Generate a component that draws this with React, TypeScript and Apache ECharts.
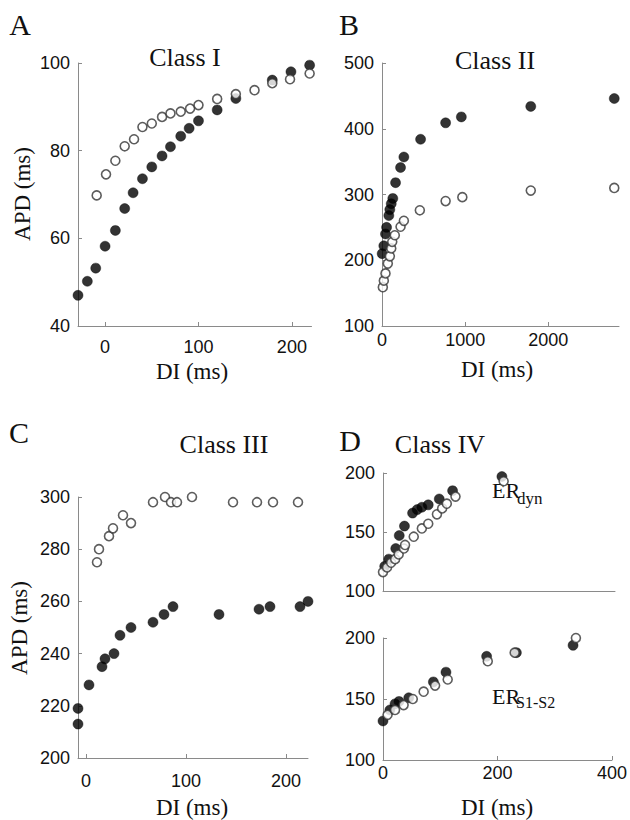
import React, { useEffect, useRef } from "react";
import * as echarts from "echarts";

// Panel A – Class I
const aFilled: number[][] = [
  [-29, 47.0], [-19, 50.2], [-10, 53.2], [0, 58.2], [11, 61.8], [21, 66.8], [30, 70.4],
  [40, 73.6], [50, 76.3], [61, 78.8], [70, 80.9], [81, 83.3], [90, 85.1], [100, 86.8],
  [120, 89.3], [140, 91.9], [179, 96.1], [199, 98.0], [219, 99.5],
];
const aOpen: number[][] = [
  [-9, 69.8], [1, 74.6], [11, 77.7], [21, 81.0], [31, 82.6], [40, 85.4], [50, 86.2],
  [61, 87.7], [70, 88.5], [81, 88.9], [91, 89.6], [100, 90.4], [120, 91.8], [140, 92.9],
  [160, 93.8], [179, 95.4], [198, 96.3], [219, 97.6],
];
// Panel B – Class II
const bFilled: number[][] = [
  [2, 210], [22, 222], [42, 240], [55, 250], [82, 268], [94, 277], [111, 286], [130, 294],
  [163, 318], [223, 341], [263, 357], [464, 384], [765, 409], [954, 418], [1789, 434], [2793, 446],
];
const bOpen: number[][] = [
  [10, 159], [22, 169], [42, 180], [70, 195], [94, 206], [111, 218], [123, 228], [154, 238],
  [223, 251], [263, 260], [455, 276], [765, 290], [966, 296], [1789, 306], [2793, 310],
];
// Panel C – Class III
const cFilled: number[][] = [
  [-8, 219], [-8, 213], [3, 228], [16, 235], [19, 238], [28, 240], [34, 247], [45, 250],
  [67, 252], [78, 255], [87, 258], [133, 255], [173, 257], [184, 258], [214, 258], [222, 260],
];
const cOpen: number[][] = [
  [11, 275], [13, 280], [23, 285], [27, 288], [37, 293], [45, 290], [67, 298], [79, 300],
  [85, 298], [91, 298], [106, 300], [147, 298], [171, 298], [187, 298], [212, 298],
];
// Panel D – Class IV, ER_dyn
const dDynFilled: number[][] = [
  [3, 121], [10, 127], [22, 136], [28, 147], [37, 155], [51, 166], [59, 169], [67, 171],
  [78, 173], [97, 178], [120, 185], [205, 197],
];
const dDynOpen: number[][] = [
  [0, 116], [7, 120], [14, 124], [21, 127], [27, 131], [36, 136], [38, 139], [53, 146],
  [67, 153], [78, 157], [93, 165], [102, 170], [110, 174], [125, 180], [208, 193],
];
// Panel D – Class IV, ER_S1-S2
const dS12Filled: number[][] = [
  [0, 132], [12, 141], [21, 146], [28, 148], [45, 151], [88, 164], [110, 172], [181, 185],
  [233, 188], [332, 194],
];
const dS12Open: number[][] = [
  [8, 137], [21, 141], [36, 145], [52, 150], [71, 156], [91, 161], [113, 166], [183, 181],
  [230, 188], [337, 200],
];

const xTicksA = [0, 100, 200];
const xTicksB = [0, 1000, 2000];
const xTicksC = [0, 100, 200];

const SERIF = '"Liberation Serif", "Times New Roman", serif';
const SANS = '"Liberation Sans", Arial, sans-serif';
const AXIS_COLOR = "#8a8a8a";

export default function App() {
  const ref = useRef<HTMLDivElement>(null);
  useEffect(() => {
    if (!ref.current) return;
    const chart = echarts.init(ref.current, undefined, { renderer: "svg" });

    const fmt = (v: number) => String(v);
    const axisBase = {
      type: "value" as const,
      splitLine: { show: false },
      axisLine: { show: true, onZero: false, lineStyle: { color: AXIS_COLOR, width: 1 } },
      axisTick: { show: true, inside: true, length: 4, lineStyle: { color: AXIS_COLOR } },
      axisLabel: { color: "#111", fontFamily: SANS, fontSize: 18, margin: 8, formatter: fmt },
    };
    const xAxis = (gridIndex: number, min: number, max: number, ticks: number[] | null, margin = 12) => ({
      ...axisBase,
      gridIndex,
      min,
      max,
      axisTick: ticks
        ? { ...axisBase.axisTick, customValues: ticks }
        : { show: false },
      axisLabel: ticks
        ? { ...axisBase.axisLabel, margin, customValues: ticks }
        : { show: false },
    });
    const yAxis = (gridIndex: number, min: number, max: number, interval: number) => ({
      ...axisBase,
      gridIndex,
      min,
      max,
      interval,
    });

    const filled = (xi: number, data: number[][]) => ({
      type: "scatter" as const,
      xAxisIndex: xi,
      yAxisIndex: xi,
      data,
      symbol: "circle",
      symbolSize: 10,
      clip: false,
      itemStyle: { color: "#000", borderColor: "#000", borderWidth: 0.5 },
    });
    const open = (xi: number, data: number[][]) => ({
      type: "scatter" as const,
      xAxisIndex: xi,
      yAxisIndex: xi,
      data,
      symbol: "circle",
      symbolSize: 9,
      clip: false,
      itemStyle: { color: "#fff", borderColor: "#333", borderWidth: 1.6 },
    });

    const txt = (x: number, y: number, text: string, size: number, extra: any = {}) => ({
      type: "text",
      x,
      y,
      ...extra,
      style: {
        text,
        fontSize: size,
        fontFamily: SERIF,
        fill: "#111",
        align: extra.align || "center",
        verticalAlign: "middle",
      },
    });

    chart.setOption({
      animation: false,
      backgroundColor: "#fff",
      grid: [
        { left: 78, top: 63, width: 233.5, height: 263 },
        { left: 382, top: 63, width: 237, height: 263 },
        { left: 78, top: 497, width: 230, height: 261 },
        { left: 383, top: 473, width: 232, height: 118 },
        { left: 383, top: 638, width: 232, height: 122 },
      ],
      xAxis: [
        xAxis(0, -29, 221, xTicksA, 12),
        xAxis(1, 0, 2850, xTicksB, 5),
        xAxis(2, -8, 222, xTicksC, 14),
        xAxis(3, 0, 400, null),
        { ...axisBase, gridIndex: 4, min: 0, max: 400, interval: 200,
          axisLabel: { ...axisBase.axisLabel, margin: 4 } },
      ],
      yAxis: [
        yAxis(0, 40, 100, 20),
        yAxis(1, 100, 500, 100),
        yAxis(2, 200, 300, 20),
        yAxis(3, 100, 200, 50),
        yAxis(4, 100, 200, 50),
      ],
      series: [
        filled(0, aFilled), open(0, aOpen),
        filled(1, bFilled), open(1, bOpen),
        filled(2, cFilled), open(2, cOpen),
        filled(3, dDynFilled), open(3, dDynOpen),
        filled(4, dS12Filled), open(4, dS12Open),
      ],
      graphic: [
        txt(20, 24, "A", 30),
        txt(349, 24, "B", 30),
        txt(19, 432, "C", 30),
        txt(350, 440, "D", 30),
        txt(185, 57, "Class I", 26),
        txt(495, 60, "Class II", 26),
        txt(224, 444, "Class III", 26),
        txt(440, 444, "Class IV", 26),
        txt(192, 371, "DI (ms)", 23),
        txt(497, 369, "DI (ms)", 23),
        txt(192, 807, "DI (ms)", 23),
        txt(497, 807, "DI (ms)", 23),
        txt(22, 194, "APD (ms)", 23, { rotation: Math.PI / 2 }),
        txt(19, 628, "APD (ms)", 23, { rotation: Math.PI / 2 }),
        txt(492, 490, "ER", 22, { align: "left" }),
        txt(517, 498, "dyn", 17, { align: "left" }),
        txt(492, 696, "ER", 22, { align: "left" }),
        txt(516, 702, "S1-S2", 16, { align: "left" }),
      ],
    });
    return () => chart.dispose();
  }, []);
  return (
    <div
      ref={ref}
      style={{ position: "absolute", left: 0, top: 0, width: 630, height: 820 }}
    />
  );
}
